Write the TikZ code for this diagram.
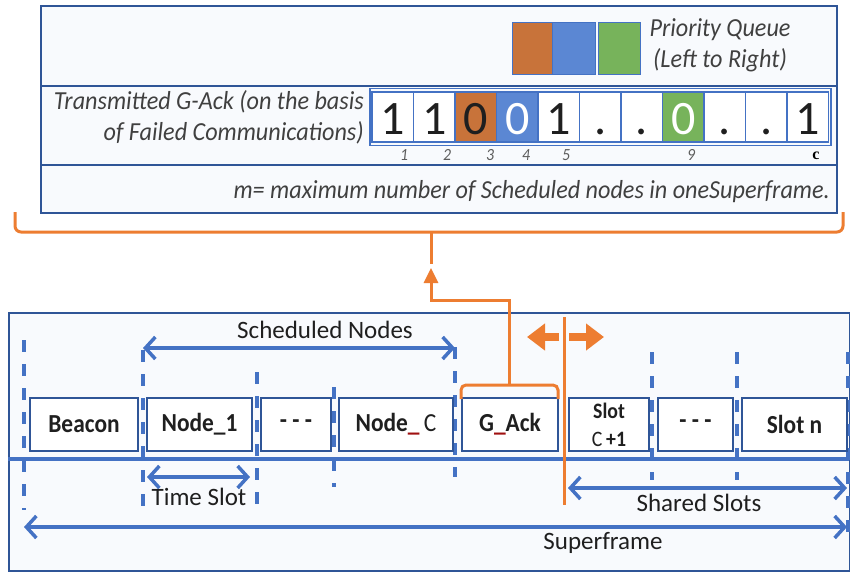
\documentclass[tikz,border=0pt]{standalone}
\usepackage{fontspec}
\setmainfont{Carlito}
\newfontfamily\boxfont[FakeStretch=0.9]{Carlito}
\newfontfamily\itfont[FakeStretch=0.93]{Carlito}
\newfontfamily\serifc{Liberation Serif}
\usetikzlibrary{arrows.meta}
\definecolor{lineblue}{HTML}{4472C4}
\definecolor{boxblue}{HTML}{2F5597}
\definecolor{orng}{HTML}{ED7D31}
\definecolor{cellor}{HTML}{C8733A}
\definecolor{cellbl}{HTML}{5B87D3}
\definecolor{cellgr}{HTML}{77B35B}
\definecolor{txt}{HTML}{1F1F1F}
\definecolor{itxt}{HTML}{404040}
\definecolor{panel}{HTML}{F8FAFD}
\definecolor{uline}{HTML}{A01010}
\tikzset{
  panelbox/.style={draw=boxblue, line width=2.2pt, fill=panel, inner sep=0pt, anchor=north west},
  slotbox/.style={draw=boxblue, line width=2.2pt, fill=white, minimum height=53pt, inner sep=0pt, text=txt, font=\boxfont\bfseries\fontsize{26}{28}\selectfont, align=center},
  pqbox/.style={draw=lineblue, line width=1pt, minimum width=40pt, minimum height=52pt, inner sep=0pt},
  bitcell/.style={draw=lineblue, line width=1.5pt, minimum width=41.5pt, minimum height=50pt, inner sep=0pt, text height=34pt, text depth=0pt, font=\fontsize{48}{50}\selectfont},
  idx/.style={font=\itfont\itshape\fontsize{17}{18}\selectfont, text=itxt!85, inner sep=0pt},
  itlabel/.style={font=\itfont\itshape\fontsize{26}{31}\selectfont, text=itxt, inner sep=0pt},
  label/.style={font=\fontsize{25}{28}\selectfont, text=txt, inner sep=0pt},
  vdash/.style={draw=lineblue, line width=3.5pt, dash pattern=on 12pt off 12pt},
  dimarrow/.style={draw=lineblue, line width=3.5pt, {Straight Barb[length=10pt,width=22pt]}-{Straight Barb[length=10pt,width=22pt]}},
  oline/.style={draw=orng, line width=3pt},
}
\begin{document}
\begin{tikzpicture}[x=1pt,y=-1pt]
\useasboundingbox (0,0) rectangle (850,573);
\fill[white] (0,0) rectangle (850,573);

% ---------------- top panel ----------------
\node[panelbox, minimum width=796pt, minimum height=207pt] (toppanel) at (40,5) {};
\draw[boxblue, line width=2.2pt] (40,86) -- (836,86);
\draw[boxblue, line width=2.2pt] (40,165) -- (836,165);

\node[pqbox, fill=cellor] (pq1) at (532,48) {};
\node[pqbox, fill=cellbl, minimum width=43pt] (pq2) at (573.5,48) {};
\node[pqbox, fill=cellgr, minimum width=42pt] (pq3) at (619,48) {};
\node[itlabel, align=center] (pqlabel) at (720,45) {Priority Queue\\(Left to Right)};

\node[itlabel, align=right, anchor=east] (gacklabel) at (364,117) {Transmitted G-Ack (on the basis\\of Failed Communications)};

\node[draw=lineblue, line width=1.8pt, minimum width=461pt, minimum height=57pt, inner sep=0pt] (bitframe) at (600.25,117) {};
\foreach \i/\d/\f/\t in {1/1/white/txt, 2/1/white/txt, 3/0/cellor/txt, 4/0/cellbl/white, 5/1/white/txt, 6/./white/txt, 7/./white/txt, 8/0/cellgr/white, 9/./white/txt, 10/./white/txt, 11/1/white/txt}
  \node[bitcell, fill=\f, text=\t] (b\i) at ({372+41.5*(\i-0.5)},117) {\d};

\node[idx] (i1) at (404,155) {1};
\node[idx] (i2) at (447,155) {2};
\node[idx] (i3) at (490,155) {3};
\node[idx] (i4) at (526,155) {4};
\node[idx] (i5) at (566,155) {5};
\node[idx] (i9) at (691,155) {9};
\node[inner sep=0pt, font=\serifc\bfseries\fontsize{16}{17}\selectfont] (ic) at (816,156) {c};

\node[itlabel, anchor=east] (mlabel) at (830,192) {m= maximum number of Scheduled nodes in oneSuperframe.};

% ---------------- bottom panel ----------------
\node[panelbox, minimum width=841pt, minimum height=258pt] (botpanel) at (8,312) {};

% dashed slot boundaries
\draw[vdash] (24,340) -- (24,510);
\draw[vdash] (143,350) -- (143,508);
\draw[vdash] (257,372) -- (257,510);
\draw[vdash] (334,387) -- (334,487);
\draw[vdash] (455,347) -- (455,477);
\draw[vdash] (652,352) -- (652,480);
\draw[vdash] (737,352) -- (737,480);
\draw[vdash] (848,352) -- (848,533);

% timeline
\draw[lineblue, line width=4pt] (8,459) -- (849,459);

% slots
\node[slotbox, minimum width=108pt] (beacon) at (84,424.5) {Beacon};
\node[slotbox, minimum width=105pt] (node1) at (199.5,424.5) {Node\_1};
\node[slotbox, minimum width=70pt] (dots1) at (296,424.5) {- - -};
\node[slotbox, minimum width=114pt] (nodec) at (396,424.5) {Node\textcolor{uline}{\_}{\mdseries\,C}};
\node[slotbox, minimum width=96pt] (gack) at (510,424.5) {G\textcolor{uline}{\_}Ack};
\node[slotbox, minimum width=80pt, font=\boxfont\bfseries\fontsize{22}{28}\selectfont] (slotc1) at (609,424.5) {Slot\\{\mdseries C}\,+1};
\node[slotbox, minimum width=75pt] (dots2) at (695.5,424.5) {- - -};
\node[slotbox, minimum width=105pt] (slotn) at (794.5,424.5) {Slot n};

% dimension arrows
\coordinate (schL) at (143,348);
\coordinate (schR) at (455,348);
\draw[dimarrow] (schL) -- (schR);
\node[label] (schlabel) at (325,330) {Scheduled Nodes};

\coordinate (tsL) at (147,477);
\coordinate (tsR) at (250,477);
\draw[dimarrow] (tsL) -- (tsR);
\node[label] (tslabel) at (199,497) {Time Slot};

\coordinate (shL) at (568,488);
\coordinate (shR) at (847,488);
\draw[dimarrow] (shL) -- (shR);
\node[label] (shlabel) at (699,503) {Shared Slots};

\coordinate (sfL) at (24,527);
\coordinate (sfR) at (847,527);
\draw[dimarrow] (sfL) -- (sfR);
\node[label] (sflabel) at (603,543) {Superframe};

% ---------------- orange elements ----------------
\draw[oline, rounded corners=6pt] (15,212) -- (15,232) -- (843,232) -- (843,212);
\coordinate (bstub) at (431,232);
\draw[oline] (bstub) -- (431,264);
\coordinate (gtop) at (509,385);
\coordinate (tip) at (431,268);
\draw[oline, rounded corners=5pt] (461,399) -- (461,385) -- (558,385) -- (558,399);
\draw[oline, -{Triangle[length=15pt,width=14pt]}] (gtop) -- (509,300) -| (tip);
\coordinate (vtop) at (564,317);
\coordinate (vbot) at (564,505);
\draw[oline] (vtop) -- (vbot);
\coordinate (fatC) at (564,337);
\draw[orng, line width=8pt, -{Triangle[length=18pt,width=26pt]}] (559,337) -- (527,337);
\draw[orng, line width=8pt, -{Triangle[length=18pt,width=26pt]}] (569,337) -- (604,337);
\end{tikzpicture}
\end{document}
